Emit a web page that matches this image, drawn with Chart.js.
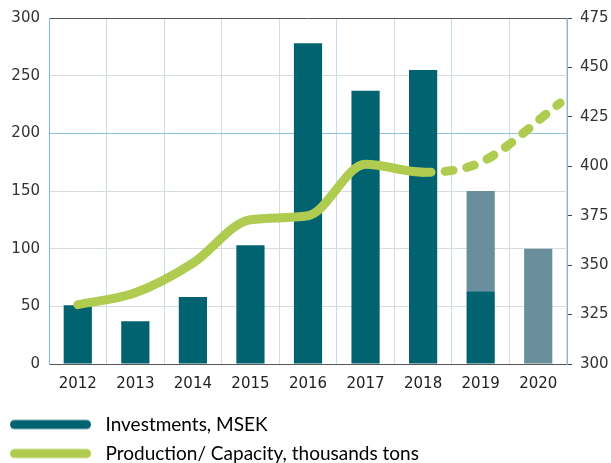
<!DOCTYPE html>
<html>
<head>
<meta charset="utf-8">
<script src="https://cdn.jsdelivr.net/npm/chart.js@4"></script>
<style>
  html, body { margin: 0; padding: 0; background: #fff; overflow: hidden; }
  #wrap { width: 611px; height: 473px; position: relative; }
</style>
</head>
<body>
<div id="wrap"><canvas id="investChart"></canvas></div>
<script>
// values
const years = ["2012", "2013", "2014", "2015", "2016", "2017", "2018", "2019", "2020"];
const investments = [51, 37, 58, 103, 278, 237, 255, 63, null];
const investmentsPlanned = [null, null, null, null, null, null, null, 87, 100];
const productionPos = [0, 1, 2, 3, 4, 5, 6, 7, 8.38];
const production = [330, 336, 351, 373, 375, 401, 397, 402, 432];
const leftTicks = [0, 50, 100, 150, 200, 250, 300];
const rightTicks = [300, 325, 350, 375, 400, 425, 450, 475];

const darkTeal = "#00636f";
const greyTeal = "#6a8f9c";
const green = "#afcc50";

// blue / grey vertical grid lines as in the original
const xGridColors = ["#c6dce8", "#c6dce8", "#c6dce8", "#d9dadb", "#d9dadb", "#c6dce8", "#d9dadb", "#c6dce8", "#d9dadb", "#c6dce8"];

function swatch(color) {
  const c = document.createElement("canvas");
  c.width = 86;
  c.height = 12;
  const g = c.getContext("2d");
  g.strokeStyle = color;
  g.lineWidth = 9;
  g.lineCap = "round";
  g.beginPath();
  g.moveTo(4.5, 6);
  g.lineTo(76.5, 6);
  g.stroke();
  return c;
}

const tickFont = { family: "DejaVu Sans", size: 15 };

const ctx = document.getElementById("investChart").getContext("2d");

new Chart(ctx, {
  data: {
    labels: years,
    datasets: [
      {
        type: "line",
        label: "Production/ Capacity, thousands tons",
        data: productionPos.map((x, i) => ({ x: x, y: production[i] })),
        xAxisID: "x2",
        yAxisID: "y1",
        borderColor: green,
        borderWidth: 9,
        borderCapStyle: "round",
        borderJoinStyle: "round",
        cubicInterpolationMode: "monotone",
        pointRadius: 0,
        order: 0,
        segment: {
          borderDash: (c) => (c.p0DataIndex >= 6 ? [8, 14] : undefined),
        },
      },
      {
        type: "bar",
        label: "Investments, MSEK",
        data: investments,
        backgroundColor: darkTeal,
        xAxisID: "x",
        yAxisID: "y",
        stack: "inv",
        grouped: false,
        categoryPercentage: 1,
        barPercentage: 0.49,
        order: 1,
      },
      {
        type: "bar",
        label: "Planned",
        data: investmentsPlanned,
        backgroundColor: greyTeal,
        xAxisID: "x",
        yAxisID: "y",
        stack: "inv",
        grouped: false,
        categoryPercentage: 1,
        barPercentage: 0.49,
        order: 1,
      },
    ],
  },
  options: {
    responsive: true,
    maintainAspectRatio: false,
    animation: false,
    layout: { padding: { top: 14, left: 0, right: 0, bottom: 0 } },
    plugins: {
      tooltip: { enabled: false },
      legend: {
        position: "bottom",
        align: "start",
        labels: {
          usePointStyle: true,
          pointStyleWidth: 86,
          padding: 10,
          color: "#333",
          font: { family: "Lato", size: 19 },
          generateLabels: () => [
            { text: "Investments, MSEK", pointStyle: swatch(darkTeal), lineWidth: 0, datasetIndex: 1 },
            { text: "Production/ Capacity, thousands tons", pointStyle: swatch(green), lineWidth: 0, datasetIndex: 0 },
          ],
        },
      },
    },
    scales: {
      x: {
        stacked: true,
        grid: {
          offset: true,
          drawTicks: false,
          color: (c) => xGridColors[c.index] || "#d9dadb",
        },
        border: { color: "#555" },
        ticks: { color: "#222", font: tickFont, padding: 11 },
        afterFit: (s) => { s.height = 41; },
      },
      x2: {
        type: "linear",
        display: false,
        min: -0.5,
        max: 8.5,
      },
      y: {
        stacked: true,
        position: "left",
        min: 0,
        max: 300,
        afterBuildTicks: (s) => { s.ticks = leftTicks.map((v) => ({ value: v })); },
        grid: {
          drawTicks: false,
          color: (c) => {
            const v = c.tick.value;
            if (v === 300 || v === 0) return "#555";
            if (v === 200) return "#8ec2e2";
            return "#d9dcdf";
          },
        },
        border: { color: "#7fb9df" },
        ticks: { color: "#333", font: tickFont, padding: 9 },
        afterFit: (s) => { s.width = 49; },
      },
      y1: {
        position: "right",
        min: 300,
        max: 475,
        afterBuildTicks: (s) => { s.ticks = rightTicks.map((v) => ({ value: v })); },
        grid: {
          drawOnChartArea: false,
          drawTicks: true,
          tickLength: 5,
          tickColor: "#444",
        },
        border: { color: "#7fb9df" },
        ticks: { color: "#333", font: tickFont, padding: 8 },
        afterFit: (s) => { s.width = 44; },
      },
    },
  },
});
</script>
</body>
</html>
